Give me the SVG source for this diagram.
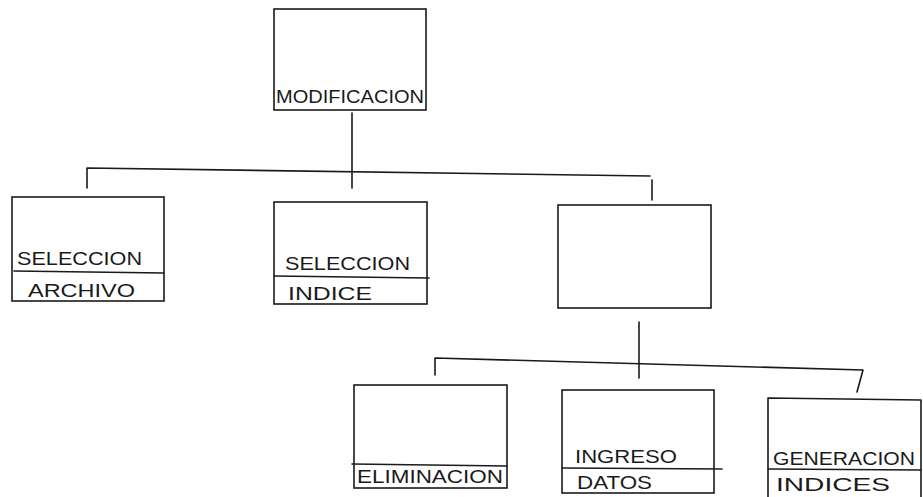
<svg xmlns="http://www.w3.org/2000/svg" width="923" height="497" viewBox="0 0 923 497">
<style>
.box{fill:none;stroke:#1a1a1a;stroke-width:1.6}
.ln{fill:none;stroke:#1a1a1a;stroke-width:1.6;stroke-linecap:round;stroke-linejoin:round}
.t{font-family:"Liberation Sans",Arial,sans-serif;font-size:18px;fill:#1a1a1a}
</style>
<rect width="923" height="497" fill="#ffffff"/>
<g id="connectors">
<path class="ln" d="M352,113 V188"/>
<path class="ln" d="M87,188 V168 L650,176"/>
<path class="ln" d="M652,180 V200"/>
<path class="ln" d="M639,322 V378"/>
<path class="ln" d="M435,375 V358 L863,370 L857,392"/>
</g>
<g id="modificacion">
<rect class="box" x="274" y="9" width="152" height="101"/>
<text class="t" x="276" y="103" textLength="148" lengthAdjust="spacingAndGlyphs">MODIFICACION</text>
</g>
<g id="seleccion-archivo">
<rect class="box" x="12" y="197" width="152" height="104"/>
<path class="ln" d="M14,271 L164,273"/>
<text class="t" x="17" y="265" textLength="125" lengthAdjust="spacingAndGlyphs">SELECCION</text>
<text class="t" x="28" y="297" textLength="107" lengthAdjust="spacingAndGlyphs">ARCHIVO</text>
</g>
<g id="seleccion-indice">
<rect class="box" x="274" y="202" width="153" height="102"/>
<path class="ln" d="M274,276 L429,278"/>
<text class="t" x="285" y="270" textLength="125" lengthAdjust="spacingAndGlyphs">SELECCION</text>
<text class="t" x="288" y="300" textLength="84" lengthAdjust="spacingAndGlyphs">INDICE</text>
</g>
<g id="intermedio">
<rect class="box" x="558" y="205" width="153" height="103"/>
</g>
<g id="eliminacion">
<rect class="box" x="354" y="385" width="153" height="103"/>
<path class="ln" d="M352,464 L507,466"/>
<text class="t" x="357" y="483" textLength="146" lengthAdjust="spacingAndGlyphs">ELIMINACION</text>
</g>
<g id="ingreso-datos">
<rect class="box" x="562" y="390" width="152" height="103"/>
<path class="ln" d="M562,468 L722,469"/>
<text class="t" x="575" y="463" textLength="102" lengthAdjust="spacingAndGlyphs">INGRESO</text>
<text class="t" x="577" y="489" textLength="75" lengthAdjust="spacingAndGlyphs">DATOS</text>
</g>
<g id="generacion-indices">
<path class="ln" d="M768,505 V398 L921,400 V505"/>
<path class="ln" d="M768,469 L921,470"/>
<text class="t" x="773" y="465" textLength="142" lengthAdjust="spacingAndGlyphs">GENERACION</text>
<text class="t" x="776" y="491" font-size="17" textLength="114" lengthAdjust="spacingAndGlyphs">INDICES</text>
</g>
</svg>
